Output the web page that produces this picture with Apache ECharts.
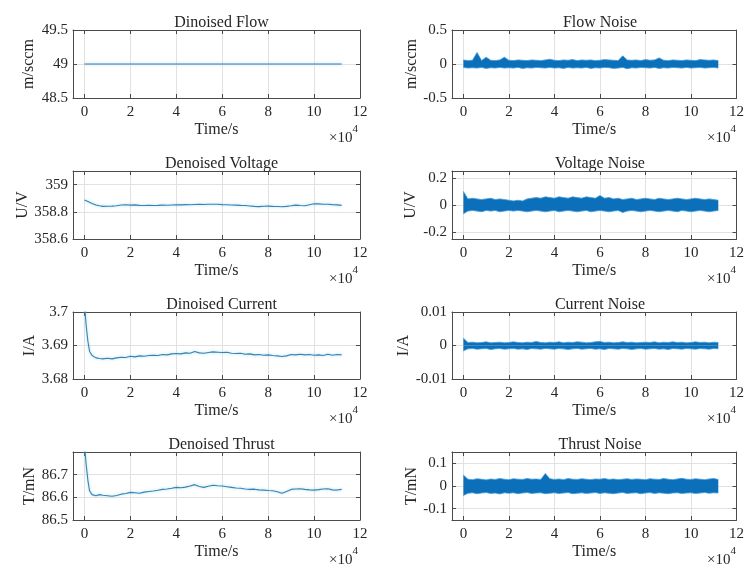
<!DOCTYPE html>
<html>
<head>
<meta charset="utf-8">
<script src="https://cdn.jsdelivr.net/npm/echarts@6/dist/echarts.min.js"></script>
<style>
  html, body { margin: 0; padding: 0; background: #fff; }
  #chart { width: 747px; height: 568px; }
</style>
</head>
<body>
<div id="chart"></div>
<script>
// thruster signals: denoised (left) and noise (right), time in seconds

const xTicks = [0, 20000, 40000, 60000, 80000, 100000, 120000];

const flowTicks = [48.5, 49, 49.5];
const flowNoiseTicks = [-0.5, 0, 0.5];
const voltTicks = [358.6, 358.8, 359];
const voltNoiseTicks = [-0.2, 0, 0.2];
const currTicks = [3.68, 3.69, 3.7];
const currNoiseTicks = [-0.01, 0, 0.01];
const thrustTicks = [86.5, 86.6, 86.7];
const thrustNoiseTicks = [-0.1, 0, 0.1];

// denoised signals
const flowT = [0, 112000];
const flowDenoised = [49, 49];

const denoT = [0, 700, 1500, 2200, 3300, 5000, 6500,
  8000, 10000, 12000, 14000, 16000, 18000, 20000, 22000, 24000, 26000,
  28000, 30000, 32000, 34000, 36000, 38000, 40000, 42000, 44000, 46000,
  48000, 50000, 52000, 54000, 56000, 58000, 60000, 62000, 64000, 66000,
  68000, 70000, 72000, 74000, 76000, 78000, 80000, 82000, 84000, 86000,
  88000, 90000, 92000, 94000, 96000, 98000, 100000, 102000, 104000, 106000,
  108000, 110000, 112000];

const voltDenoised = [358.887, 358.882, 358.876, 358.870, 358.861, 358.850, 358.844,
  358.840, 358.841, 358.842, 358.844, 358.850, 358.852, 358.849, 358.851, 358.847, 358.846,
  358.848, 358.846, 358.847, 358.849, 358.848, 358.850, 358.852, 358.851, 358.853, 358.852,
  358.854, 358.855, 358.854, 358.856, 358.856, 358.855, 358.853, 358.852, 358.850, 358.849,
  358.847, 358.846, 358.843, 358.840, 358.838, 358.841, 358.842, 358.840, 358.839, 358.837,
  358.840, 358.844, 358.849, 358.846, 358.845, 358.852, 358.859, 358.858, 358.855, 358.856,
  358.853, 358.851, 358.847];

const currDenoised = [3.7025, 3.6962, 3.6912, 3.6883, 3.6870, 3.6863, 3.6861,
  3.6860, 3.6862, 3.6860, 3.6863, 3.6865, 3.6864, 3.6868, 3.6866, 3.6869, 3.6868,
  3.6870, 3.6871, 3.6870, 3.6873, 3.6872, 3.6875, 3.6876, 3.6875, 3.6878, 3.6877,
  3.6882, 3.6878, 3.6877, 3.6879, 3.6881, 3.6880, 3.6879, 3.6880, 3.6877, 3.6876,
  3.6877, 3.6874, 3.6875, 3.6872, 3.6873, 3.6871, 3.6872, 3.6870, 3.6869, 3.6867,
  3.6869, 3.6873, 3.6872, 3.6874, 3.6872, 3.6873, 3.6871, 3.6872, 3.6870, 3.6874,
  3.6871, 3.6873, 3.6872];

const thrustDenoised = [86.83, 86.747, 86.674, 86.629, 86.612, 86.607, 86.612,
  86.609, 86.607, 86.605, 86.608, 86.614, 86.617, 86.622, 86.620, 86.618, 86.623,
  86.626, 86.628, 86.631, 86.635, 86.637, 86.640, 86.644, 86.642, 86.645, 86.650,
  86.656, 86.648, 86.644, 86.649, 86.653, 86.651, 86.650, 86.647, 86.644, 86.641,
  86.640, 86.637, 86.635, 86.636, 86.633, 86.632, 86.630, 86.629, 86.625, 86.618,
  86.626, 86.635, 86.637, 86.638, 86.635, 86.633, 86.632, 86.634, 86.637, 86.638,
  86.633, 86.632, 86.635];

// noise envelopes (upper / lower edge of the band)
const noiseT = [0, 2000, 4000, 6000, 8000, 10000, 12000, 14000, 16000, 18000,
  20000, 22000, 24000, 26000, 28000, 30000, 32000, 34000, 36000, 38000,
  40000, 42000, 44000, 46000, 48000, 50000, 52000, 54000, 56000, 58000,
  60000, 62000, 64000, 66000, 68000, 70000, 72000, 74000, 76000, 78000,
  80000, 82000, 84000, 86000, 88000, 90000, 92000, 94000, 96000, 98000,
  100000, 102000, 104000, 106000, 108000, 110000, 112000];

const flowNoiseHi = [0.06, 0.05, 0.055, 0.17, 0.05, 0.10, 0.055, 0.05, 0.06, 0.10,
  0.055, 0.05, 0.06, 0.055, 0.05, 0.06, 0.055, 0.05, 0.06, 0.07,
  0.055, 0.05, 0.06, 0.055, 0.065, 0.05, 0.06, 0.055, 0.06, 0.05,
  0.055, 0.065, 0.06, 0.055, 0.05, 0.12, 0.06, 0.055, 0.06, 0.05,
  0.065, 0.055, 0.06, 0.09, 0.055, 0.05, 0.06, 0.055, 0.05, 0.06,
  0.055, 0.05, 0.065, 0.06, 0.055, 0.06, 0.05];
const flowNoiseLo = [-0.05, -0.06, -0.055, -0.06, -0.05, -0.065, -0.055, -0.06, -0.05, -0.06,
  -0.055, -0.06, -0.05, -0.065, -0.055, -0.06, -0.05, -0.055, -0.06, -0.05,
  -0.06, -0.055, -0.065, -0.05, -0.06, -0.055, -0.06, -0.05, -0.065, -0.055,
  -0.06, -0.05, -0.055, -0.065, -0.06, -0.05, -0.07, -0.055, -0.06, -0.05,
  -0.055, -0.06, -0.05, -0.065, -0.055, -0.06, -0.05, -0.055, -0.06, -0.05,
  -0.06, -0.055, -0.05, -0.06, -0.055, -0.05, -0.06];

const voltNoiseHi = [0.10, 0.045, 0.05, 0.045, 0.04, 0.045, 0.05, 0.04, 0.045, 0.04,
  0.035, 0.03, 0.035, 0.03, 0.045, 0.05, 0.055, 0.05, 0.06, 0.055,
  0.05, 0.06, 0.055, 0.05, 0.06, 0.055, 0.05, 0.06, 0.055, 0.05,
  0.07, 0.05, 0.055, 0.045, 0.05, 0.04, 0.045, 0.05, 0.04, 0.045,
  0.05, 0.045, 0.04, 0.05, 0.045, 0.04, 0.045, 0.05, 0.045, 0.04,
  0.045, 0.05, 0.045, 0.04, 0.045, 0.04, 0.035];
const voltNoiseLo = [-0.065, -0.045, -0.04, -0.045, -0.05, -0.04, -0.045, -0.04, -0.05, -0.045,
  -0.04, -0.045, -0.04, -0.045, -0.05, -0.045, -0.04, -0.045, -0.05, -0.045,
  -0.04, -0.05, -0.045, -0.04, -0.045, -0.05, -0.045, -0.04, -0.05, -0.045,
  -0.04, -0.045, -0.05, -0.045, -0.04, -0.055, -0.045, -0.04, -0.045, -0.05,
  -0.045, -0.04, -0.045, -0.05, -0.045, -0.04, -0.045, -0.05, -0.04, -0.045,
  -0.05, -0.045, -0.04, -0.045, -0.05, -0.045, -0.04];

const currNoiseHi = [0.0022, 0.0009, 0.0010, 0.0008, 0.0009, 0.0011, 0.0008, 0.0009, 0.0010, 0.0008,
  0.0009, 0.0011, 0.0009, 0.0008, 0.0010, 0.0009, 0.0012, 0.0009, 0.0008, 0.0010,
  0.0009, 0.0011, 0.0008, 0.0010, 0.0009, 0.0011, 0.0010, 0.0008, 0.0009, 0.0011,
  0.0012, 0.0009, 0.0010, 0.0008, 0.0009, 0.0011, 0.0009, 0.0010, 0.0008, 0.0009,
  0.0010, 0.0009, 0.0011, 0.0008, 0.0010, 0.0009, 0.0011, 0.0009, 0.0010, 0.0008,
  0.0009, 0.0011, 0.0009, 0.0010, 0.0008, 0.0010, 0.0009];
const currNoiseLo = [-0.0016, -0.0010, -0.0009, -0.0011, -0.0010, -0.0009, -0.0012, -0.0010, -0.0009, -0.0011,
  -0.0010, -0.0009, -0.0011, -0.0010, -0.0012, -0.0009, -0.0010, -0.0011, -0.0009, -0.0010,
  -0.0011, -0.0009, -0.0010, -0.0012, -0.0010, -0.0009, -0.0011, -0.0010, -0.0009, -0.0011,
  -0.0010, -0.0012, -0.0009, -0.0010, -0.0011, -0.0009, -0.0010, -0.0012, -0.0010, -0.0009,
  -0.0011, -0.0010, -0.0009, -0.0011, -0.0010, -0.0012, -0.0009, -0.0010, -0.0011, -0.0009,
  -0.0010, -0.0011, -0.0009, -0.0010, -0.0011, -0.0009, -0.0010];

const thrustNoiseHi = [0.048, 0.030, 0.028, 0.032, 0.030, 0.027, 0.031, 0.029, 0.033, 0.030,
  0.028, 0.032, 0.030, 0.029, 0.033, 0.030, 0.031, 0.029, 0.055, 0.032,
  0.029, 0.031, 0.028, 0.033, 0.030, 0.029, 0.032, 0.030, 0.028, 0.031,
  0.030, 0.033, 0.029, 0.031, 0.028, 0.030, 0.032, 0.029, 0.031, 0.030,
  0.028, 0.032, 0.030, 0.029, 0.033, 0.030, 0.028, 0.031, 0.034, 0.030,
  0.029, 0.032, 0.030, 0.028, 0.031, 0.033, 0.029];
const thrustNoiseLo = [-0.042, -0.032, -0.030, -0.034, -0.031, -0.029, -0.033, -0.031, -0.035, -0.030,
  -0.032, -0.030, -0.034, -0.031, -0.029, -0.033, -0.031, -0.030, -0.034, -0.032,
  -0.030, -0.033, -0.031, -0.029, -0.034, -0.032, -0.030, -0.033, -0.031, -0.029,
  -0.033, -0.030, -0.032, -0.034, -0.031, -0.029, -0.033, -0.031, -0.030, -0.034,
  -0.031, -0.029, -0.033, -0.030, -0.032, -0.034, -0.031, -0.030, -0.033, -0.031,
  -0.030, -0.033, -0.031, -0.029, -0.032, -0.030, -0.031];

const titles = ['Dinoised Flow', 'Flow Noise', 'Denoised Voltage', 'Voltage Noise',
  'Dinoised Current', 'Current Noise', 'Denoised Thrust', 'Thrust Noise'];
const units = ['m/sccm', 'm/sccm', 'U/V', 'U/V', 'I/A', 'I/A', 'T/mN', 'T/mN'];

// layout
const FONT = 'Liberation Serif';
const TXT = '#262626';
const colLeft = [73, 452];
const colWidth = [287, 286];
const rowTop = [30, 171, 312, 452];
const rowHeight = [68, 68, 67, 68];

const panels = [
  { ticks: flowTicks, min: 48.5, max: 49.5, gap: 36, line: [flowT, flowDenoised] },
  { ticks: flowNoiseTicks, min: -0.5, max: 0.5, gap: 31, band: [flowNoiseHi, flowNoiseLo] },
  { ticks: voltTicks, min: 358.6, max: 359.1, gap: 42, line: [denoT, voltDenoised] },
  { ticks: voltNoiseTicks, min: -0.25, max: 0.25, gap: 33, band: [voltNoiseHi, voltNoiseLo] },
  { ticks: currTicks, min: 3.68, max: 3.70, gap: 35, line: [denoT, currDenoised] },
  { ticks: currNoiseTicks, min: -0.01, max: 0.01, gap: 39, band: [currNoiseHi, currNoiseLo] },
  { ticks: thrustTicks, min: 86.5, max: 86.8, gap: 35, line: [denoT, thrustDenoised] },
  { ticks: thrustNoiseTicks, min: -0.15, max: 0.15, gap: 30, band: [thrustNoiseHi, thrustNoiseLo] }
];

const zip = (xs, ys) => xs.map((x, i) => [x, ys[i]]);

const grid = [], xAxis = [], yAxis = [], series = [], title = [], graphic = [];
const boxLine = { show: true, onZero: false, lineStyle: { color: '#4a4a4a', width: 1 } };

panels.forEach((p, i) => {
  const row = Math.floor(i / 2), col = i % 2;
  const left = colLeft[col], top = rowTop[row], w = colWidth[col], h = rowHeight[row];
  grid.push({ left: left, top: top, width: w, height: h });

  title.push({
    text: titles[i], left: left + w / 2, top: top - 20, textAlign: 'center',
    textStyle: { fontFamily: FONT, fontSize: 16, fontWeight: 'normal', color: TXT }
  });

  xAxis.push({
    type: 'value', gridIndex: i, min: -5000, max: 120000, position: 'bottom',
    name: 'Time/s', nameLocation: 'middle', nameGap: 24,
    nameTextStyle: { fontFamily: FONT, fontSize: 16, color: TXT },
    axisLine: boxLine,
    axisTick: { show: true, inside: true, length: 4, customValues: xTicks, lineStyle: { color: '#4a4a4a' } },
    axisLabel: { customValues: xTicks, formatter: v => String(v / 10000), margin: 7,
      fontFamily: FONT, fontSize: 15, color: TXT },
    splitLine: { show: true, lineStyle: { color: '#e2e2e2', width: 1 } }
  });
  xAxis.push({
    type: 'value', gridIndex: i, min: -5000, max: 120000, position: 'top',
    axisLine: boxLine,
    axisTick: { show: true, inside: true, length: 4, customValues: xTicks, lineStyle: { color: '#4a4a4a' } },
    axisLabel: { show: false }, splitLine: { show: false }
  });
  yAxis.push({
    type: 'value', gridIndex: i, min: p.min, max: p.max, position: 'left',
    name: units[i], nameLocation: 'middle', nameGap: p.gap, nameRotate: 90,
    nameTextStyle: { fontFamily: FONT, fontSize: 16, color: TXT },
    axisLine: boxLine,
    axisTick: { show: true, inside: true, length: 4, customValues: p.ticks, lineStyle: { color: '#4a4a4a' } },
    axisLabel: { customValues: p.ticks, margin: 5, fontFamily: FONT, fontSize: 15, color: TXT },
    splitLine: { show: true, lineStyle: { color: '#e2e2e2', width: 1 } }
  });
  yAxis.push({
    type: 'value', gridIndex: i, min: p.min, max: p.max, position: 'right',
    axisLine: boxLine,
    axisTick: { show: true, inside: true, length: 4, customValues: p.ticks, lineStyle: { color: '#4a4a4a' } },
    axisLabel: { show: false }, splitLine: { show: false }
  });

  if (p.line) {
    series.push({
      type: 'line', xAxisIndex: 2 * i, yAxisIndex: 2 * i, showSymbol: false,
      data: zip(p.line[0], p.line[1]),
      lineStyle: { color: '#3a82ad', width: 1.1, shadowColor: 'rgba(110,200,240,0.7)', shadowBlur: 3 }
    });
  } else {
    p.band.forEach(edge => {
      series.push({
        type: 'line', xAxisIndex: 2 * i, yAxisIndex: 2 * i, showSymbol: false,
        data: zip(noiseT, edge),
        lineStyle: { color: '#3f9bd8', width: 0.8 },
        areaStyle: { color: '#0b6fb9', opacity: 1 }
      });
    });
  }

  graphic.push({
    type: 'text', x: left + w - 2, y: top + h + 37,
    style: {
      text: '{a|×10}{b|4}', align: 'right', verticalAlign: 'middle',
      rich: {
        a: { fontFamily: FONT, fontSize: 15, fill: TXT, lineHeight: 22, verticalAlign: 'bottom' },
        b: { fontFamily: FONT, fontSize: 11, fill: TXT, lineHeight: 22, verticalAlign: 'top' }
      }
    }
  });
});

const chart = echarts.init(document.getElementById('chart'));
chart.setOption({
  animation: false,
  backgroundColor: '#fff',
  title: title,
  grid: grid,
  xAxis: xAxis,
  yAxis: yAxis,
  series: series,
  graphic: graphic
});
</script>
</body>
</html>
